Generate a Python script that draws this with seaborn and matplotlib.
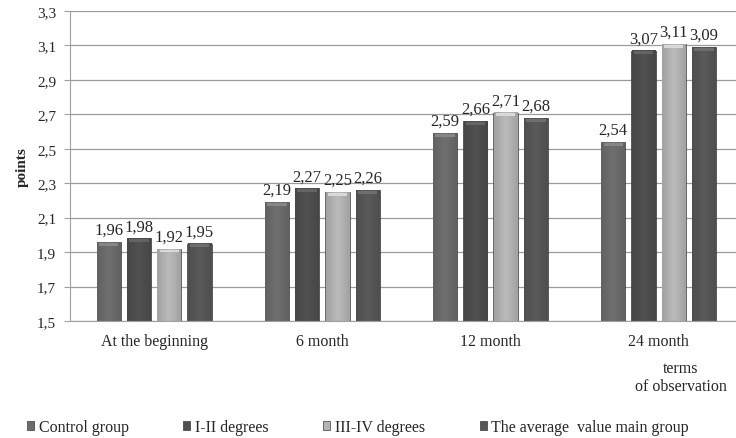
import numpy as np
import pandas as pd
import matplotlib
matplotlib.use("Agg")
import matplotlib.pyplot as plt
import matplotlib.colors as mcolors
import seaborn as sns

# values
terms = ["At the beginning", "6 month", "12 month", "24 month"]
groups = ["Control group", "I-II degrees", "III-IV degrees", "The average  value main group"]
control = [1.96, 2.19, 2.59, 2.54]
deg_1_2 = [1.98, 2.27, 2.66, 3.07]
deg_3_4 = [1.92, 2.25, 2.71, 3.11]
average = [1.95, 2.26, 2.68, 3.09]
colors = ["#6c6c6c", "#4e4e4e", "#b4b4b4", "#575757"]

rows = []
for g, vals in zip(groups, [control, deg_1_2, deg_3_4, average]):
    for t, v in zip(terms, vals):
        rows.append({"term": t, "group": g, "value": v})
df = pd.DataFrame(rows)

sns.set_style("white")
plt.rcParams["font.family"] = ["Liberation Serif", "DejaVu Serif"]

fig = plt.figure(figsize=(7.36, 4.39), dpi=100)
ax = fig.add_axes([70 / 736, 1 - 322 / 439, 1 - 70 / 736, 310 / 439])

sns.barplot(data=df, x="term", y="value", hue="group", palette=colors,
            width=0.72, gap=0.2, edgecolor="#3a3a3a", linewidth=0.5, ax=ax)

ymin, ymax = 1.5, 3.3
ax.set_ylim(ymin, ymax)
ax.set_xlim(-0.5, 3.46)

# soft cylinder-like shading on each bar (only the visible part above ymin)
prof = np.concatenate([np.linspace(0.55, 1.15, 30), np.linspace(1.15, 0.55, 30)])
for patch in list(ax.patches):
    x0, w, h = patch.get_x(), patch.get_width(), patch.get_height()
    top_y = patch.get_y() + h
    if w == 0 or top_y <= ymin:
        continue
    base = np.array(mcolors.to_rgb(patch.get_facecolor()))
    shade = 0.78 + 0.22 * np.clip(prof, 0, 1.2)
    img = np.clip(base[None, :] * shade[:, None], 0, 1)[None, :, :]
    ax.imshow(img, extent=[x0 + 0.002, x0 + w - 0.002, ymin, top_y - 0.002], aspect="auto",
              interpolation="bicubic", zorder=patch.get_zorder() + 0.1)
    # lighter bevel at the top
    top = np.clip(base * 1.15 + 0.04, 0, 1)
    ax.fill_between([x0 + w * 0.1, x0 + w * 0.9], top_y - 0.022, top_y - 0.005,
                    color=top, linewidth=0, zorder=patch.get_zorder() + 0.2)
ax.set_xlim(-0.5, 3.46)
ax.set_ylim(ymin, ymax)

ax.set_yticks([1.5 + 0.2 * i for i in range(10)])
ax.set_yticklabels([f"{1.5 + 0.2 * i:.1f}".replace(".", ",") for i in range(10)], fontsize=11)
ax.tick_params(axis="x", labelsize=11.5, length=0, pad=9)
ax.tick_params(axis="y", length=4, color="#a0a0a0", left=True, pad=6)
ax.yaxis.grid(True, color="#9a9a9a", linewidth=0.9)
ax.set_axisbelow(True)
for s in ["top", "right"]:
    ax.spines[s].set_visible(False)
for s in ["left", "bottom"]:
    ax.spines[s].set_color("#a0a0a0")

for cont in ax.containers:
    ax.bar_label(cont, labels=[f"{v:.2f}".replace(".", ",") for v in cont.datavalues],
                 fontsize=12, padding=3)

ax.set_xlabel("")
ax.set_ylabel("points", fontsize=11, fontweight="bold", labelpad=6)
ax.get_legend().remove()

fig.text(681 / 736, 1 - 378 / 439, "terms\nof observation", ha="center", va="center",
         fontsize=11.5, linespacing=1.15)

handles = [plt.Rectangle((0, 0), 1, 1, facecolor=c, edgecolor="#3a3a3a", linewidth=0.5) for c in colors]
fig.legend(handles, groups, loc="center", bbox_to_anchor=(358 / 736, 1 - 428 / 439), ncol=4,
           frameon=False, fontsize=11.5, handlelength=0.45, handleheight=0.45,
           handletextpad=0.3, columnspacing=3.4)

fig.savefig("out.png", dpi=100)
